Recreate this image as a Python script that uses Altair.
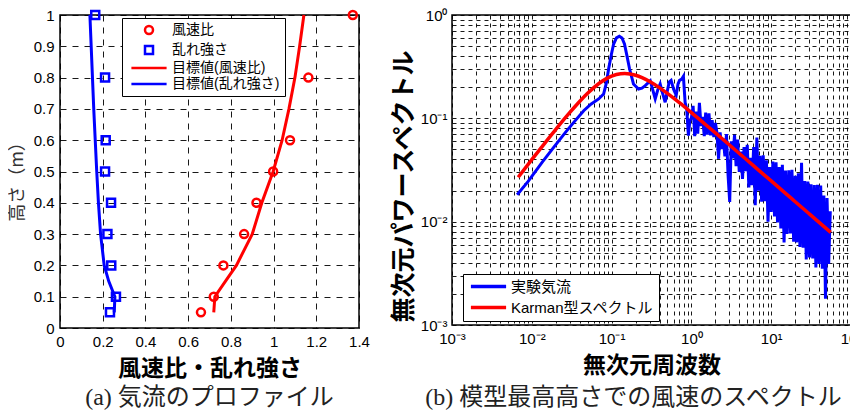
import altair as alt
import pandas as pd

# ---------------- (a) 気流のプロファイル ----------------
meas_height = [0.05, 0.1, 0.2, 0.3, 0.4, 0.5, 0.6, 0.8, 1.0]
wind_ratio = [0.660, 0.720, 0.765, 0.862, 0.920, 0.998, 1.077, 1.163, 1.371]
turb_intensity = [0.234, 0.262, 0.240, 0.222, 0.239, 0.211, 0.214, 0.211, 0.165]

target_height = [0.05, 0.1, 0.15, 0.2, 0.3, 0.4, 0.5, 0.6, 0.7, 0.8, 0.9, 1.0]
target_ratio = [0.720, 0.725, 0.775, 0.826, 0.900, 0.945, 0.998, 1.040, 1.072, 1.100, 1.122, 1.142]
target_turb = [0.254, 0.257, 0.228, 0.207, 0.190, 0.180, 0.172, 0.165, 0.158, 0.152, 0.146, 0.140]

labels_a = ["風速比", "乱れ強さ", "目標値(風速比)", "目標値(乱れ強さ)"]
x_ticks_a = [0, 0.2, 0.4, 0.6, 0.8, 1.0, 1.2, 1.4]
y_ticks_a = [0, 0.1, 0.2, 0.3, 0.4, 0.5, 0.6, 0.7, 0.8, 0.9, 1.0]

# ---------------- (b) 模型最高高さでの風速のスペクトル ----------------
spec_freq = [
    0.00655, 0.0090, 0.01345, 0.0190, 0.0264, 0.0350, 0.0447, 0.0550, 0.0688, 0.0794,
    0.0860, 0.0917, 0.0990, 0.106, 0.115, 0.125, 0.135, 0.145, 0.156, 0.168,
    0.188, 0.2175, 0.240, 0.264, 0.305, 0.330, 0.352, 0.380, 0.406, 0.435,
    0.469, 0.500, 0.526, 0.557, 0.600, 0.645, 0.680, 0.710, 0.757, 0.794,
    0.834, 0.874, 0.917, 0.955,
    1.00, 1.05, 1.10, 1.15, 1.20, 1.26, 1.32, 1.38, 1.45, 1.51,
    1.58, 1.66, 1.74, 1.82, 1.91, 2.00, 2.09, 2.19, 2.29, 2.40,
    2.51, 2.63, 2.75, 2.88, 3.02, 3.16, 3.31, 3.47, 3.63, 3.80,
    3.98, 4.17, 4.37, 4.57, 4.79, 5.01, 5.25, 5.50, 5.75, 6.03,
    6.31, 6.61, 6.92, 7.24, 7.59, 7.94, 8.32, 8.71, 9.12, 9.55,
    10.0, 10.5, 11.0, 11.5, 12.0, 12.6, 13.2, 13.8, 14.5, 15.1,
    15.8, 16.6, 17.4, 18.2, 19.1, 20.0, 20.9, 21.9, 22.9, 24.0,
    25.1, 26.3, 27.5, 28.8, 30.2, 31.6, 33.1, 34.7, 36.3, 38.0,
    39.8, 41.7, 43.7, 45.7, 47.9, 50.1, 52.5, 55.0,
]
spec_power = [
    0.0182, 0.0245, 0.0375, 0.0530, 0.0731, 0.095, 0.1186, 0.137, 0.154, 0.172,
    0.220, 0.30, 0.41, 0.524, 0.60, 0.622, 0.60, 0.524, 0.40, 0.30,
    0.215, 0.192, 0.196, 0.207, 0.231, 0.185, 0.154, 0.190, 0.215, 0.175,
    0.143, 0.185, 0.224, 0.233, 0.190, 0.167, 0.215, 0.233, 0.240, 0.255,
    0.143, 0.123, 0.068, 0.095,
    0.101, 0.132, 0.0673, 0.116, 0.0711, 0.141, 0.0841, 0.103, 0.0673, 0.1135,
    0.0695, 0.1117, 0.0684, 0.0959, 0.0658, 0.0902, 0.0728, 0.0406, 0.0733, 0.0504,
    0.0637, 0.0428, 0.0705, 0.0284, 0.0155, 0.060, 0.0411, 0.0693, 0.0345, 0.0622,
    0.0303, 0.0476, 0.0259, 0.0526, 0.0308, 0.0555, 0.0214, 0.0415, 0.0226, 0.0526,
    0.0144, 0.0652, 0.0200, 0.0435, 0.0156, 0.0438, 0.0158, 0.0393, 0.0100, 0.0337,
    0.0124, 0.0381, 0.0112, 0.0375, 0.0098, 0.0337, 0.0086, 0.0356, 0.0063, 0.0312,
    0.0076, 0.0315, 0.0077, 0.0317, 0.0064, 0.0278, 0.0063, 0.0294, 0.0057, 0.0372,
    0.0056, 0.0248, 0.0043, 0.0244, 0.0045, 0.0230, 0.0044, 0.0226, 0.0036, 0.0228,
    0.0039, 0.0224, 0.0035, 0.0179, 0.0018, 0.0169, 0.0039, 0.0126,
]
karman_freq = [0.00675, 0.01, 0.015, 0.02, 0.03, 0.04, 0.05, 0.07, 0.085, 0.1, 0.13, 0.146,
               0.17, 0.2, 0.3, 0.4, 0.5, 0.7, 1.0, 1.5, 2.0, 3.0, 5.0, 7.0, 10.0, 15.0,
               20.0, 30.0, 55.7]
karman_power = [0.0269, 0.0398, 0.0592, 0.0782, 0.114, 0.1463, 0.1746, 0.2185, 0.241, 0.2561,
                0.2699, 0.2710, 0.2688, 0.2612, 0.2271, 0.1972, 0.1742, 0.1424, 0.1136, 0.0872,
                0.0722, 0.0552, 0.0393, 0.0314, 0.0248, 0.0189, 0.0156, 0.0119, 0.00787]
labels_b = ["実験気流", "Karman型スペクトル"]
decades_x = [0.001, 0.01, 0.1, 1, 10]
decades_y = [0.001, 0.01, 0.1]
minor_mult = [1, 2, 3, 4, 5, 6, 7, 8, 9]

RED = "#FF0000"
BLUE = "#0000FF"
SANS = "Liberation Sans, Arial, Noto Sans CJK JP"
CJK = "Noto Sans CJK JP, Liberation Sans"
LEG = "Liberation Sans, Noto Sans CJK JP"
SERIF = "Liberation Serif, Noto Sans CJK JP"

line_path = "M-4.4,0H4.4"

pts_df = pd.DataFrame({
    "x": wind_ratio + turb_intensity,
    "z": meas_height + meas_height,
    "系列a": [labels_a[0]] * len(meas_height) + [labels_a[1]] * len(meas_height),
})
tgt_df = pd.DataFrame({
    "x": target_ratio + target_turb,
    "z": target_height + target_height,
    "系列a": [labels_a[2]] * len(target_height) + [labels_a[3]] * len(target_height),
})

legend_a = alt.Legend(
    title=None, orient="none", legendX=62, legendY=3,
    symbolSize=64, symbolStrokeWidth=2.5, symbolOffset=15,
    labelFont=LEG, labelFontSize=14, labelColor="black", labelOffset=16,
    strokeColor="black", fillColor="white", padding=5, rowPadding=2,
)
color_a = alt.Color("系列a:N", scale=alt.Scale(domain=labels_a, range=[RED, BLUE, RED, BLUE]),
                    legend=legend_a)
shape_a = alt.Shape("系列a:N", scale=alt.Scale(domain=labels_a,
                                               range=["circle", "square", line_path, line_path]),
                    legend=legend_a)

x_a = alt.X("x:Q", scale=alt.Scale(domain=[0, 1.4], nice=False, zero=False),
            axis=alt.Axis(values=x_ticks_a, format="~g", title="風速比・乱れ強さ",
                          labelFlush=False))
y_a = alt.Y("z:Q", scale=alt.Scale(domain=[0, 1], nice=False, zero=False),
            axis=alt.Axis(values=y_ticks_a, format="~g", title="高さ（m）",
                          titleFontWeight="normal", titleFontSize=18, titleColor="#333",
                          titlePadding=7, titleY=162))

pts_layer = alt.Chart(pts_df).mark_point(filled=False, strokeWidth=2.5, size=64, opacity=1).encode(
    x=x_a, y=y_a, color=color_a, shape=shape_a)
tgt_layer = alt.Chart(tgt_df).mark_line(strokeWidth=3).encode(
    x=x_a, y=y_a, color=color_a, order=alt.Order("z:Q"))

axis_common = dict(grid=True, gridColor="black", gridOpacity=0.9, gridWidth=1,
                   ticks=False, domain=False, labelFont=SANS, labelFontSize=15,
                   labelColor="black", labelPadding=6, titleFont=CJK, titleColor="black",
                   titleFontWeight="bold", titleFontSize=23, titlePadding=8)

panel_a = alt.layer(pts_layer, tgt_layer).properties(
    width=299, height=313,
    title=alt.TitleParams("(a)  気流のプロファイル", orient="bottom", anchor="middle",
                          offset=6, fontSize=24, font=SERIF, fontWeight="normal", color="#222"),
)

# ---- (b) ----
spec_df = pd.DataFrame({"f": spec_freq, "S": spec_power, "系列b": labels_b[0]})
karman_df = pd.DataFrame({"f": karman_freq, "S": karman_power, "系列b": labels_b[1]})

grid_x = [d * m for d in decades_x for m in minor_mult] + [100]
grid_y = [d * m for d in decades_y for m in minor_mult] + [1]

sup_expr = ("abs(log(datum.value)/LN10 - round(log(datum.value)/LN10)) < 0.001 ? "
            "'10' + (round(log(datum.value)/LN10) < 0 ? '⁻' : '') + "
            "['⁰','¹','²','³'][abs(round(log(datum.value)/LN10))] : ''")

legend_b = alt.Legend(
    title=None, orient="none", legendX=11, legendY=259,
    symbolType=line_path, symbolSize=64, symbolStrokeWidth=3.5, symbolOffset=13,
    labelFont=LEG, labelFontSize=15, labelColor="black", labelOffset=15,
    strokeColor="black", fillColor="white", padding=5, rowPadding=5,
)
color_b = alt.Color("系列b:N", scale=alt.Scale(domain=labels_b, range=[BLUE, RED]), legend=legend_b)

x_b = alt.X("f:Q", scale=alt.Scale(type="log", domain=[0.001, 100], nice=False),
            axis=alt.Axis(values=grid_x, labelExpr=sup_expr, labelOverlap=False,
                          labelFlush=False, title="無次元周波数", gridDash=[4, 4]))
y_b = alt.Y("S:Q", scale=alt.Scale(type="log", domain=[0.001, 1], nice=False),
            axis=alt.Axis(values=grid_y, labelExpr=sup_expr, labelOverlap=False,
                          title="無次元パワースペクトル", titleFontSize=25, titlePadding=4,
                          titleY=171, labelPadding=5, gridDash=[4, 4]))

spec_layer = alt.Chart(spec_df).mark_line(strokeWidth=3).encode(
    x=x_b, y=y_b, color=color_b, order=alt.Order("f:Q"))
karman_layer = alt.Chart(karman_df).mark_line(strokeWidth=3.5, interpolate="monotone").encode(
    x=x_b, y=y_b, color=color_b, order=alt.Order("f:Q"))

panel_b = alt.layer(spec_layer, karman_layer).properties(
    width=399, height=310,
    title=alt.TitleParams("(b)  模型最高高さでの風速のスペクトル", orient="bottom", anchor="middle",
                          offset=9, dx=-18, fontSize=24, font=SERIF, fontWeight="normal", color="#222"),
)

chart = alt.hconcat(panel_a, panel_b, spacing=19).resolve_scale(
    color="independent", shape="independent"
).properties(
    padding={"left": -1, "top": -3, "right": -13, "bottom": 0},
    background="white",
).configure_view(
    stroke="black", strokeWidth=1.5,
).configure_axis(
    **axis_common
).configure_axisX(
    gridDash=[6, 6]
).configure_axisY(
    gridDash=[6, 6]
)

chart.save("out.html", embed_options={"renderer": "svg", "actions": False})
